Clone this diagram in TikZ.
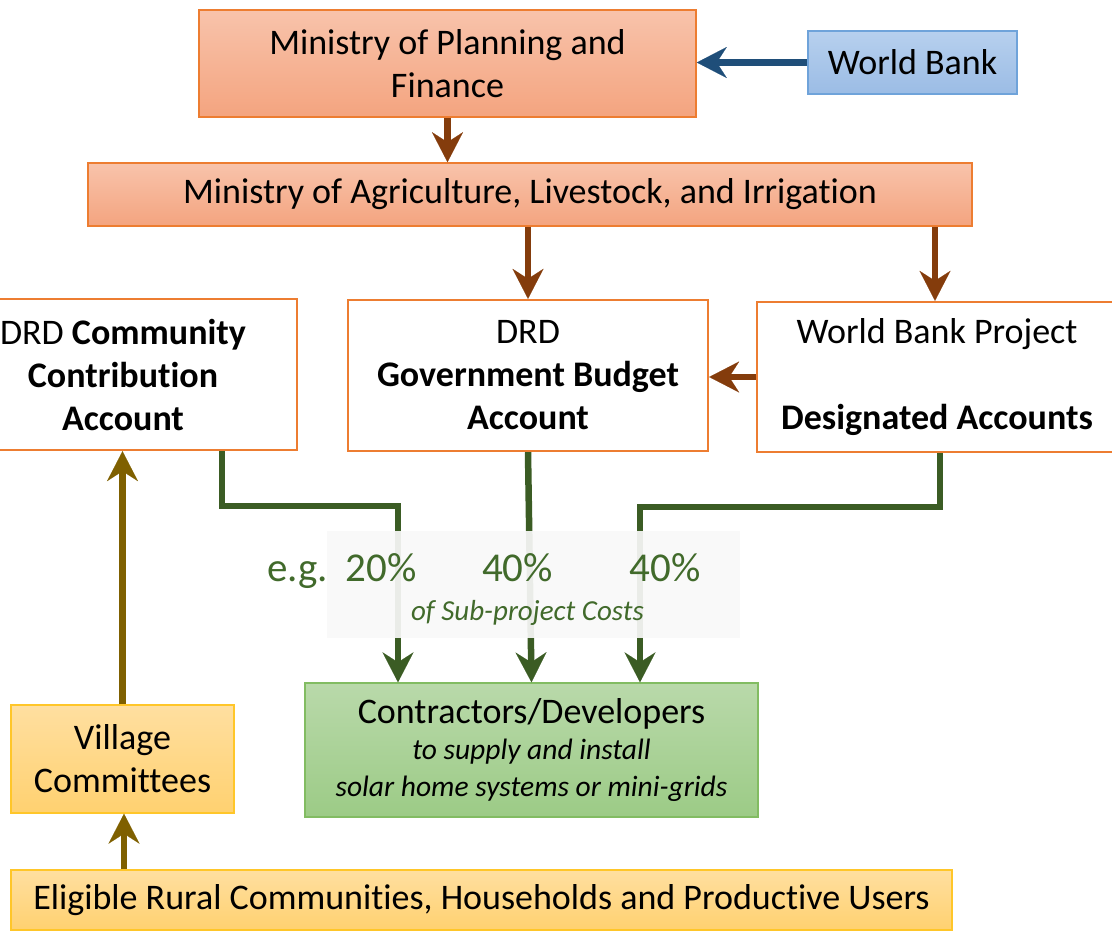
\documentclass[tikz,border=0pt]{standalone}
\usepackage{fontspec}
\setmainfont{Carlito}[Ligatures=NoCommon]
\usetikzlibrary{arrows.meta}

\definecolor{salmontop}{HTML}{F8C3AB}
\definecolor{salmonbot}{HTML}{F4A47F}
\definecolor{orangeline}{HTML}{ED7D31}
\definecolor{bluetop}{HTML}{B7D0EE}
\definecolor{bluebot}{HTML}{9BBCE5}
\definecolor{blueline}{HTML}{6FA3DA}
\definecolor{greentop}{HTML}{B9D9AA}
\definecolor{greenbot}{HTML}{9CCB86}
\definecolor{greenline}{HTML}{82BC62}
\definecolor{yeltop}{HTML}{FFDFA0}
\definecolor{yelbot}{HTML}{FFD170}
\definecolor{yelline}{HTML}{FFC629}
\definecolor{brownarr}{HTML}{843C0C}
\definecolor{bluearr}{HTML}{1F4E79}
\definecolor{olivearr}{HTML}{7F6000}
\definecolor{greenarr}{HTML}{3B5C24}
\definecolor{greentext}{HTML}{416A2B}
\definecolor{veilfill}{HTML}{F9F9F9}

\tikzset{
  box/.style={inner sep=0pt, align=flush center, text=black,
    font=\fontsize{36}{43}\selectfont},
  salmonbox/.style={box, draw=orangeline, line width=1.6pt,
    top color=salmontop, bottom color=salmonbot},
  bluebox/.style={box, draw=blueline, line width=1.4pt,
    top color=bluetop, bottom color=bluebot},
  acctbox/.style={box, draw=orangeline, line width=2.4pt, fill=white},
  greenbox/.style={box, draw=greenline, line width=1.4pt,
    top color=greentop, bottom color=greenbot},
  yelbox/.style={box, draw=yelline, line width=1.4pt,
    top color=yeltop, bottom color=yelbot},
  tip/.style={-{Stealth[length=30pt, width=31pt, inset=10pt, line width=0.1pt]}},
  flow/.style={tip, line width=6.5pt},
  brownflow/.style={flow, draw=brownarr},
  blueflow/.style={flow, draw=bluearr},
  oliveflow/.style={flow, draw=olivearr},
  greenflow/.style={flow, draw=greenarr},
  veil/.style={inner sep=0pt, fill=veilfill, fill opacity=0.92},
  pct/.style={inner sep=0pt, text=greentext, font=\fontsize{41}{48}\selectfont},
  costs/.style={inner sep=0pt, text=greentext, font=\itshape\fontsize{29}{34}\selectfont}
}

\begin{document}
\begin{tikzpicture}[x=1pt, y=-1pt]
\useasboundingbox (0,0) rectangle (1112,930);
\clip (0,0) rectangle (1112,930);

% ministries and donor
\node[salmonbox, minimum width=497pt, minimum height=107pt, text width=490pt]
  (mpf) at (447.5,63.5) {Ministry of Planning and\\Finance};
\node[bluebox, minimum width=209pt, minimum height=63pt]
  (wb) at (912.5,62.5) {World Bank};
\node[salmonbox, minimum width=884pt, minimum height=63pt]
  (moa) at (530,194.5) {Ministry of Agriculture, Livestock, and Irrigation};

% DRD accounts
\node[acctbox, minimum width=348pt, minimum height=151pt, text width=340pt]
  (comm) at (123,374.5) {DRD \textbf{Community}\\\textbf{Contribution}\\\textbf{Account}};
\node[acctbox, minimum width=360pt, minimum height=151pt, text width=350pt]
  (gov) at (528,375.5) {DRD\\\textbf{Government Budget}\\\textbf{Account}};
\node[acctbox, minimum width=360pt, minimum height=150pt, text width=350pt]
  (wbp) at (937,377) {World Bank Project\\\strut\\\textbf{Designated Accounts}};

% implementers and communities
\node[greenbox, minimum width=453pt, minimum height=134pt, text width=445pt]
  (contr) at (531.5,750) {Contractors/Developers\\[-1pt]
  {\itshape\fontsize{29.5}{37}\selectfont to supply and install\\solar home systems or mini-grids\par}};
\node[yelbox, minimum width=223pt, minimum height=108pt, text width=215pt]
  (village) at (122.5,759) {Village\\Committees};
\node[yelbox, minimum width=941pt, minimum height=60pt]
  (elig) at (481.5,900) {Eligible Rural Communities, Households and Productive Users};

% funding flows from the top
\draw[blueflow] (wb.west) -- (mpf.east |- wb.west);
\draw[brownflow] (mpf.south) -- (mpf.south |- moa.north);
\draw[brownflow] (moa.south -| gov.north) -- (gov.north);
\draw[brownflow] ([xshift=-2pt]moa.south -| wbp.north) -- ([xshift=-2pt]wbp.north);
\draw[brownflow] (wbp.west) -- (gov.east |- wbp.west);

% community side
\draw[oliveflow] (village.north) -- (village.north |- comm.south);
\draw[oliveflow] ([xshift=1.5pt]elig.north -| village.south) -- ([xshift=1.5pt]village.south);

% payments to contractors
\draw[greenflow] ([xshift=99pt]comm.south) -- ++(0,55) -| ([xshift=-133.5pt]contr.north);
\draw[greenflow] (gov.south) -- (contr.north);
\draw[greenflow] ([xshift=3pt]wbp.south) -- ++(0,54) -| ([xshift=108.5pt]contr.north);

% shares of sub-project costs
\node[veil, minimum width=413pt, minimum height=107pt] (shares) at (533.5,584.5) {};
\node[pct, anchor=base east] (p1) at (417,581) {e.g.\hspace{18pt}20\%};
\node[pct, anchor=base] (p2) at (517.5,581) {40\%};
\node[pct, anchor=base] (p3) at (665,581) {40\%};
\node[costs, anchor=base] (cost) at (527.5,620) {of Sub-project Costs};
\end{tikzpicture}
\end{document}
